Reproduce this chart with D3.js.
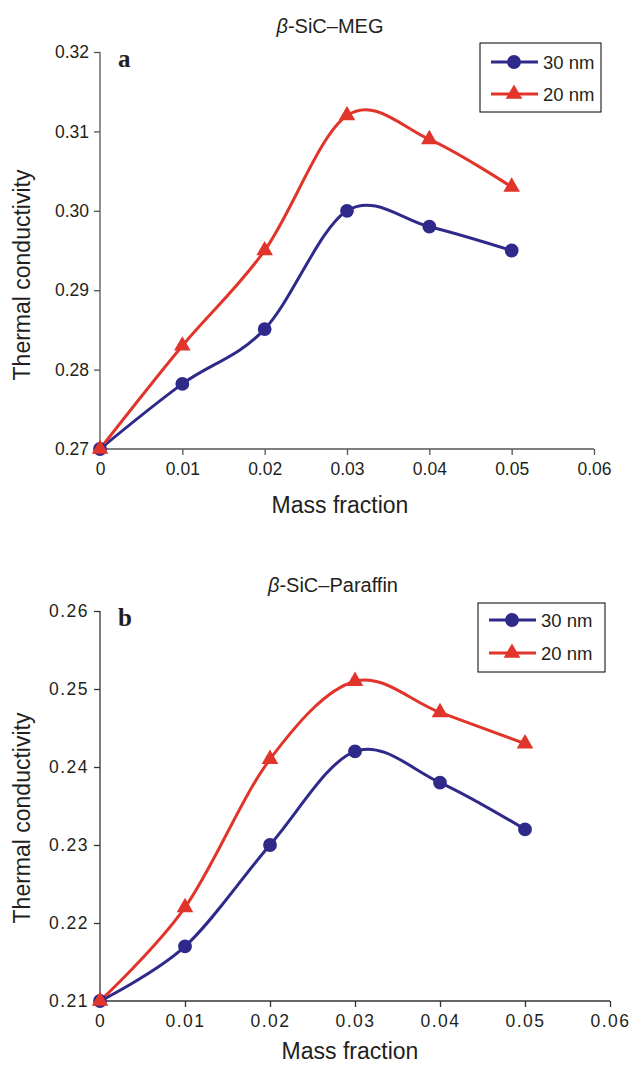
<!DOCTYPE html>
<html>
<head>
<meta charset="utf-8">
<script src="https://cdn.jsdelivr.net/npm/d3@7"></script>
<style>
  body { margin: 0; background: #fff; }
  text { font-family: "Liberation Sans", Arial, sans-serif; fill: #231f20; }
</style>
</head>
<body>
<div id="chart-area"></div>
<script>
// mass fractions shared by both panels
var massFraction = [0, 0.01, 0.02, 0.03, 0.04, 0.05];
var xTicks = [0, 0.01, 0.02, 0.03, 0.04, 0.05, 0.06];
var seriesNames = ["30 nm", "20 nm"];

// panel a: beta-SiC in MEG
var megTicks = [0.27, 0.28, 0.29, 0.30, 0.31, 0.32];
var meg30 = [0.270, 0.2782, 0.2851, 0.300, 0.298, 0.295];
var meg20 = [0.270, 0.283, 0.295, 0.312, 0.309, 0.303];

// panel b: beta-SiC in paraffin
var parTicks = [0.21, 0.22, 0.23, 0.24, 0.25, 0.26];
var par30 = [0.210, 0.217, 0.230, 0.242, 0.238, 0.232];
var par20 = [0.210, 0.222, 0.241, 0.251, 0.247, 0.243];

var blue = "#2f2a8a", red = "#e1342a";

var svg = d3.select("#chart-area").append("svg")
    .attr("width", 638)
    .attr("height", 1065);

function panel(opt) {
  var x = d3.scaleLinear().domain([0, 0.06]).range([100, opt.xEnd]);
  var y = d3.scaleLinear().domain([opt.ticks[0], opt.ticks[opt.ticks.length - 1]])
      .range([opt.yBottom, opt.yTop]);
  var g = svg.append("g");

  var yAxis = g.append("g")
      .attr("transform", "translate(100,0)")
      .call(d3.axisLeft(y).tickValues(opt.ticks).tickFormat(d3.format(".2f"))
        .tickSize(6).tickPadding(5));
  var xAxis = g.append("g")
      .attr("transform", "translate(0," + opt.yBottom + ")")
      .call(d3.axisBottom(x).tickValues(xTicks)
        .tickFormat(function(d) { return d === 0 ? "0" : d3.format(".2f")(d); })
        .tickSize(6).tickPadding(8));
  [xAxis, yAxis].forEach(function(a) {
    a.selectAll("path, line").attr("stroke", opt.axisColor).attr("stroke-width", 1.3);
    a.selectAll("text").style("font-size", "17.5px")
      .style("letter-spacing", opt.spacing + "px")
      .style("font-family", "'Liberation Sans', Arial, sans-serif").attr("fill", "#231f20");
    a.select(".domain").attr("d", a === xAxis
      ? "M100,0H" + opt.xEnd
      : "M0," + opt.yTop + "V" + opt.yBottom);
  });

  g.append("text").attr("x", opt.titleX).attr("y", opt.yTop - 19)
      .attr("text-anchor", "middle").style("font-size", "20px")
      .html('<tspan font-style="italic">β</tspan>-SiC–' + opt.title);
  g.append("text").attr("x", opt.xTitleX).attr("y", opt.yBottom + opt.xTitleDy)
      .attr("text-anchor", "middle").style("font-size", "23px").text("Mass fraction");
  g.append("text")
      .attr("transform", "translate(30," + opt.yTitleY + ") rotate(-90)")
      .attr("text-anchor", "middle").style("font-size", "23px").text("Thermal conductivity");
  g.append("text").attr("x", 118).attr("y", opt.yTop + 15)
      .style("font-family", "'Liberation Serif', 'Times New Roman', serif")
      .style("font-weight", "bold").style("font-size", "25px").text(opt.letter);

  var line = d3.line()
      .x(function(d, i) { return x(massFraction[i]); })
      .y(function(d) { return y(d); })
      .curve(d3.curveCardinal.tension(0));

  var series = [{ v: opt.s30, c: blue, m: "circle" }, { v: opt.s20, c: red, m: "triangle" }];
  series.forEach(function(s) {
    g.append("path").datum(s.v)
        .attr("d", line).attr("fill", "none")
        .attr("stroke", s.c).attr("stroke-width", 3);
  });
  series.forEach(function(s) {
    g.selectAll(null).data(s.v).enter().append("path")
        .attr("transform", function(d, i) { return "translate(" + x(massFraction[i]) + "," + y(d) + ")"; })
        .attr("d", d3.symbol().type(s.m === "circle" ? d3.symbolCircle : d3.symbolTriangle)
          .size(s.m === "circle" ? 150 : 120))
        .attr("fill", s.c);
  });

  // legend
  var lg = g.append("g").attr("transform", "translate(" + opt.legX + "," + opt.legY + ")");
  lg.append("rect").attr("width", opt.legW).attr("height", opt.legH)
      .attr("fill", "#fff").attr("stroke", "#000").attr("stroke-width", 1);
  seriesNames.forEach(function(name, i) {
    var ry = opt.legRows[i];
    lg.append("line").attr("x1", 11).attr("x2", 58).attr("y1", ry).attr("y2", ry)
        .attr("stroke", series[i].c).attr("stroke-width", 3);
    lg.append("path").attr("transform", "translate(34," + ry + ")")
        .attr("d", d3.symbol().type(i === 0 ? d3.symbolCircle : d3.symbolTriangle)
          .size(i === 0 ? 150 : 120))
        .attr("fill", series[i].c);
    lg.append("text").attr("x", 63).attr("y", ry + 6.5)
        .style("font-size", "18.5px").text(name);
  });
}

panel({ title: "MEG", letter: "a", ticks: megTicks, s30: meg30, s20: meg20,
  yTop: 52, yBottom: 449, xEnd: 594, axisColor: "#555", spacing: 0,
  titleX: 330, xTitleX: 340, xTitleDy: 64, yTitleY: 275,
  legX: 480, legY: 43, legW: 121, legH: 69, legRows: [19, 51] });

panel({ title: "Paraffin", letter: "b", ticks: parTicks, s30: par30, s20: par20,
  yTop: 611, yBottom: 1001, xEnd: 610, axisColor: "#333", spacing: 1.5,
  titleX: 333, xTitleX: 350, xTitleDy: 58, yTitleY: 818,
  legX: 478, legY: 603, legW: 127, legH: 69, legRows: [17, 50] });
</script>
</body>
</html>
